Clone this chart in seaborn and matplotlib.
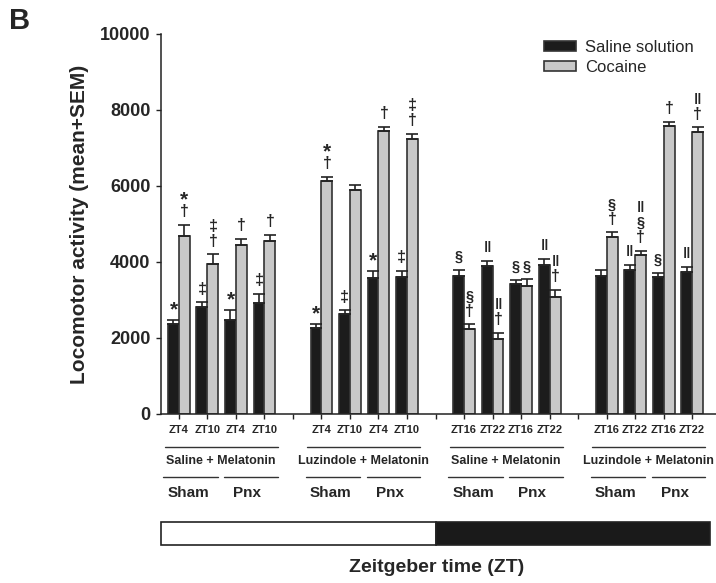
import numpy as np
import pandas as pd
import matplotlib
matplotlib.use('Agg')
import matplotlib.pyplot as plt
from matplotlib.patches import Rectangle
import seaborn as sns

sns.set_style('ticks')
plt.rcParams['font.family'] = ['Liberation Sans', 'DejaVu Sans']

# data
positions = [0, 1, 2, 3, 5, 6, 7, 8, 10, 11, 12, 13, 15, 16, 17, 18]
zt_labels = ['ZT4', 'ZT10', 'ZT4', 'ZT10', 'ZT4', 'ZT10', 'ZT4', 'ZT10',
             'ZT16', 'ZT22', 'ZT16', 'ZT22', 'ZT16', 'ZT22', 'ZT16', 'ZT22']
saline_mean = [2370, 2820, 2470, 2910, 2270, 2620, 3570, 3610,
               3630, 3900, 3410, 3930, 3630, 3790, 3600, 3730]
saline_sem = [100, 120, 280, 250, 110, 110, 200, 160,
              150, 120, 110, 150, 150, 120, 120, 150]
cocaine_mean = [4680, 3940, 4440, 4540, 6120, 5900, 7450, 7250,
                2250, 1970, 3360, 3080, 4660, 4180, 7570, 7410]
cocaine_sem = [300, 260, 160, 170, 120, 130, 100, 130,
               110, 160, 180, 180, 120, 115, 120, 130]
# significance marks, listed from the bar upwards
saline_marks = ['*', '‡', '*', '‡', '*', '‡', '*', '‡',
                '§', '‖', '§', '‖', '', '‖', '§', '‖']
cocaine_marks = ['†*', '†‡', '†', '†', '†*', '', '†', '†‡',
                 '†§', '†‖', '§', '†‖', '†§', '†§‖', '†', '†‖']
minor_ticks = [4, 9, 14]
group_start = [0, 5, 10, 15]
group_treat = ['Saline + Melatonin', 'Luzindole + Melatonin',
               'Saline + Melatonin', 'Luzindole + Melatonin']
surgery = ['Sham', 'Pnx']
light_dark = [(-0.63, 9.02, 'white'), (9.02, 18.63, '#1a1a1a')]

df = pd.DataFrame({
    'pos': positions * 2,
    'treatment': ['Saline solution'] * 16 + ['Cocaine'] * 16,
    'value': saline_mean + cocaine_mean,
})

fig = plt.figure(figsize=(7.16, 5.83), dpi=100)
ax = fig.add_axes([161 / 716, 169 / 583, 555 / 716, 380 / 583])

sns.barplot(data=df, x='pos', y='value', hue='treatment', native_scale=True,
            palette={'Saline solution': '#1c1c1c', 'Cocaine': '#c8c8c8'},
            width=0.77, gap=0, edgecolor='#333333', linewidth=1.2,
            errorbar=None, ax=ax)

# symbol look: font size and where the ink centre sits above the baseline (em)
sym_size = {'*': 15, '†': 11.5, '‡': 11.5, '§': 10.5, '‖': 11}
sym_mid = {'*': 0.41, '†': 0.27, '‡': 0.27, '§': 0.27, '‖': 0.27}
for cont, sem, marks in zip(ax.containers, [saline_sem, cocaine_sem],
                            [saline_marks, cocaine_marks]):
    xs = [b.get_x() + b.get_width() / 2 for b in cont]
    ys = [b.get_height() for b in cont]
    ax.errorbar(xs, ys, yerr=[np.zeros(len(sem)), sem], fmt='none',
                ecolor='#222222', elinewidth=1.2, capsize=4, capthick=1.2)
    for x, y, s, m in zip(xs, ys, sem, marks):
        for k, ch in enumerate(m):
            centre = 9.4 + 10.6 * k
            ax.annotate(ch, xy=(x, y + s),
                        xytext=(0, centre - sym_mid[ch] * sym_size[ch]),
                        textcoords='offset points', ha='center',
                        va='baseline', fontsize=sym_size[ch],
                        fontweight='bold',
                        family=['Liberation Sans', 'DejaVu Sans'])

ax.set_xlim(-0.63, 18.84)
ax.set_ylim(0, 10000)
ax.set_yticks([0, 2000, 4000, 6000, 8000, 10000])
ax.set_yticklabels(['0', '2000', '4000', '6000', '8000', '10000'],
                   fontsize=13, fontweight='bold')
ax.set_xticks(positions)
ax.set_xticklabels(zt_labels, fontsize=8, fontweight='bold')
ax.set_xticks(minor_ticks, minor=True)
ax.tick_params(axis='both', which='both', direction='out', length=3.5,
               width=1, color='#222222')
ax.tick_params(axis='x', pad=4.5)
ax.tick_params(axis='y', pad=4)
sns.despine(ax=ax)
for sp in ['left', 'bottom']:
    ax.spines[sp].set_linewidth(1.1)
    ax.spines[sp].set_color('#222222')

ax.set_xlabel('')
ax.set_ylabel('Locomotor activity (mean+SEM)', fontsize=15, fontweight='bold')
ax.yaxis.set_label_coords(-0.13, 0.5)

handles, labels = ax.get_legend_handles_labels()
ax.legend(handles, labels, loc='upper left', bbox_to_anchor=(0.69, 0.985),
          frameon=False, fontsize=12, handlelength=1.9, handleheight=0.55,
          handletextpad=0.55, labelspacing=0.3, borderaxespad=0, borderpad=0)

# group labels below the axis
tr = ax.get_xaxis_transform()
for st, treat in zip(group_start, group_treat):
    ax.plot([st - 0.5, st + 3.47], [-0.086, -0.086], transform=tr,
            color='#333333', lw=1.0, clip_on=False)
    ax.text(st + 1.47, -0.124, treat, transform=tr, ha='center', va='center',
            fontsize=9, fontweight='bold')
    ax.plot([st - 0.56, st + 1.36], [-0.165, -0.165], transform=tr,
            color='#333333', lw=1.0, clip_on=False)
    ax.plot([st + 1.58, st + 3.47], [-0.165, -0.165], transform=tr,
            color='#333333', lw=1.0, clip_on=False)
    for cx, lab in zip([st + 0.33, st + 2.4], surgery):
        ax.text(cx, -0.208, lab, transform=tr, ha='center', va='center',
                fontsize=11, fontweight='bold')

for x0, x1, col in light_dark:
    ax.add_patch(Rectangle((x0, -0.345), x1 - x0, 0.062, transform=tr,
                           facecolor=col, edgecolor='#222222', lw=1.2,
                           clip_on=False))

fig.text(437 / 716, 1 - 567 / 583, 'Zeitgeber time (ZT)', ha='center',
         va='center', fontsize=14, fontweight='bold')
fig.text(20 / 716, 1 - 21 / 583, 'B', ha='center', va='center',
         fontsize=21, fontweight='bold')

plt.savefig('out.png', dpi=100)
